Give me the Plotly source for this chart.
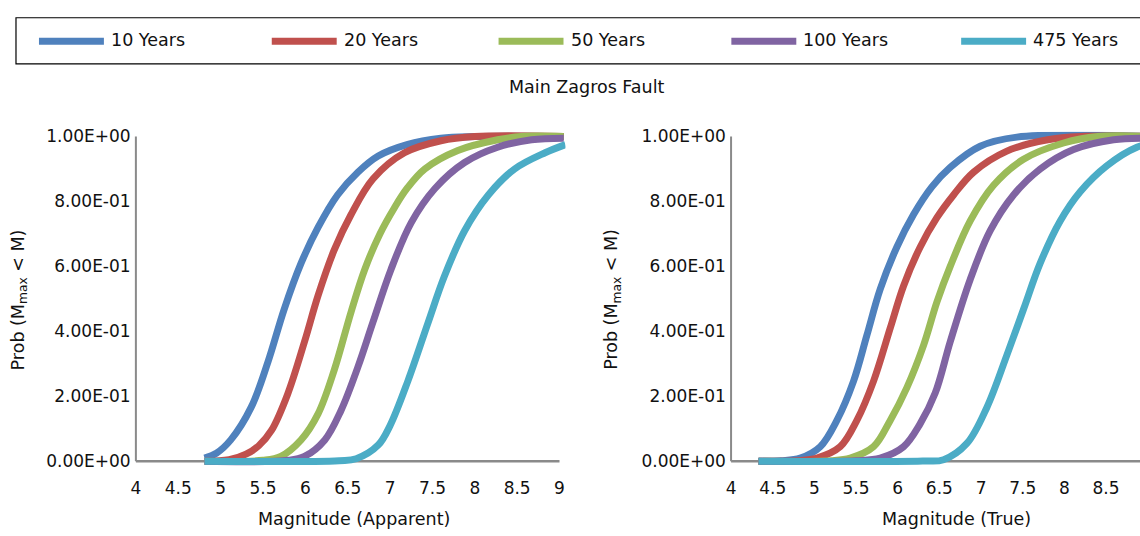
import plotly.graph_objects as go

# ---------------- data ----------------
series_names = ["10 Years", "20 Years", "50 Years", "100 Years", "475 Years"]
series_colors = ["#4F81BD", "#C0504D", "#9BBB59", "#8064A2", "#4BACC6"]

# Left panel: Magnitude (Apparent)
app_10_m = [4.81, 4.95, 5.12, 5.36, 5.56, 5.75, 5.95, 6.15, 6.38, 6.62, 6.86, 7.2, 7.6, 8.0, 9.05]
app_10_p = [0.01, 0.025, 0.066, 0.166, 0.307, 0.468, 0.61, 0.72, 0.82, 0.89, 0.94, 0.975, 0.995, 1.0, 1.0]
app_20_m = [4.81, 5.1, 5.3, 5.45, 5.60, 5.79, 5.99, 6.15, 6.34, 6.54, 6.80, 7.17, 7.6, 8.0, 9.05]
app_20_p = [0.0, 0.005, 0.022, 0.048, 0.095, 0.206, 0.368, 0.51, 0.65, 0.76, 0.87, 0.95, 0.987, 1.0, 1.0]
app_50_m = [4.81, 5.5, 5.71, 5.95, 6.15, 6.34, 6.54, 6.70, 6.88, 7.05, 7.20, 7.41, 7.80, 8.27, 8.55, 9.05]
app_50_p = [0.0, 0.003, 0.015, 0.066, 0.146, 0.28, 0.46, 0.59, 0.70, 0.78, 0.84, 0.90, 0.957, 0.99, 1.0, 1.0]
app_100_m = [4.81, 5.8, 5.99, 6.23, 6.42, 6.62, 6.80, 7.01, 7.25, 7.53, 7.88, 8.27, 8.67, 9.05]
app_100_p = [0.0, 0.003, 0.015, 0.066, 0.156, 0.29, 0.43, 0.59, 0.735, 0.84, 0.92, 0.967, 0.99, 0.995]
app_475_m = [4.81, 6.4, 6.6, 6.86, 7.0, 7.21, 7.45, 7.64, 7.88, 8.16, 8.47, 8.83, 9.07]
app_475_p = [0.0, 0.002, 0.008, 0.05, 0.11, 0.247, 0.428, 0.569, 0.71, 0.82, 0.90, 0.95, 0.975]

# Right panel: Magnitude (True)
true_10_m = [4.33, 4.6, 4.83, 5.07, 5.27, 5.47, 5.63, 5.79, 5.99, 6.19, 6.41, 6.63, 6.99, 7.43, 9.0]
true_10_p = [0.0, 0.002, 0.01, 0.045, 0.126, 0.247, 0.388, 0.53, 0.66, 0.76, 0.845, 0.905, 0.97, 0.998, 1.0]
true_20_m = [4.33, 4.8, 5.03, 5.31, 5.51, 5.71, 5.91, 6.07, 6.27, 6.47, 6.67, 6.91, 7.31, 7.8, 8.2, 9.0]
true_20_p = [0.0, 0.002, 0.01, 0.045, 0.126, 0.247, 0.41, 0.54, 0.66, 0.75, 0.82, 0.89, 0.955, 0.99, 1.0, 1.0]
true_50_m = [4.33, 5.2, 5.43, 5.71, 5.91, 6.11, 6.31, 6.47, 6.63, 6.87, 7.15, 7.51, 7.99, 8.4, 9.0]
true_50_p = [0.0, 0.002, 0.01, 0.045, 0.126, 0.227, 0.357, 0.49, 0.60, 0.74, 0.85, 0.93, 0.98, 1.0, 1.0]
true_100_m = [4.33, 5.5, 5.79, 6.07, 6.27, 6.45, 6.63, 6.87, 7.11, 7.39, 7.71, 8.11, 8.59, 9.0]
true_100_p = [0.0, 0.002, 0.01, 0.045, 0.116, 0.21, 0.368, 0.56, 0.71, 0.82, 0.90, 0.96, 0.99, 0.995]
true_475_m = [4.33, 6.3, 6.55, 6.83, 7.07, 7.31, 7.51, 7.71, 7.95, 8.19, 8.51, 8.87, 9.0]
true_475_p = [0.0, 0.001, 0.005, 0.055, 0.166, 0.327, 0.468, 0.61, 0.74, 0.83, 0.91, 0.967, 0.975]

y_tickvals = [0.0, 0.2, 0.4, 0.6, 0.8, 1.0]
y_ticktext = ["0.00E+00", "2.00E-01", "4.00E-01", "6.00E-01", "8.00E-01", "1.00E+00"]

chart_title = "Main Zagros Fault"
left_xtitle = "Magnitude (Apparent)"
right_xtitle = "Magnitude (True)"
ytitle = "Prob (M<sub>max</sub> &lt; M)"

app_series = [(app_10_m, app_10_p), (app_20_m, app_20_p), (app_50_m, app_50_p),
              (app_100_m, app_100_p), (app_475_m, app_475_p)]
true_series = [(true_10_m, true_10_p), (true_20_m, true_20_p), (true_50_m, true_50_p),
               (true_100_m, true_100_p), (true_475_m, true_475_p)]

# ---------------- layout geometry ----------------
W, H = 1140, 536
FONT = "DejaVu Sans, Arial, sans-serif"
TXT = "#111111"
AXC = "#8a8a8a"


def dom(v1, p1, v2, p2, lo, hi, total):
    s = (p2 - p1) / (v2 - v1)
    a = p1 + (lo - v1) * s
    b = p1 + (hi - v1) * s
    return [max(0.0, min(a, b) / total), min(1.0, max(a, b) / total)]


# left x: 4 -> 135px, 9 -> 559px
lx_range = [3.95, 9.07]
lx_dom = dom(4, 135, 9, 559, lx_range[0], lx_range[1], W)
# right x: 4 -> 730.7px, 8.5 -> 1106px
rs = (1106 - 730.7) / 4.5
rx_range = [3.95, 4 + (W - 730.7) / rs]
rx_dom = dom(4, 730.7, 8.5, 1106, rx_range[0], rx_range[1], W)
# y: 0 -> 465px, 1 -> 134px (from top)
y_range = [-0.015, 1.015]
yd = dom(0, H - 465, 1, H - 134, y_range[0], y_range[1], H)

fig = go.Figure()

for i, (m, p) in enumerate(app_series):
    fig.add_trace(go.Scatter(x=m, y=p, mode="lines", name=series_names[i],
                             line=dict(color=series_colors[i], width=7, shape="spline", smoothing=1.0),
                             showlegend=False, xaxis="x", yaxis="y"))
for i, (m, p) in enumerate(true_series):
    fig.add_trace(go.Scatter(x=m, y=p, mode="lines", name=series_names[i],
                             line=dict(color=series_colors[i], width=7, shape="spline", smoothing=1.0),
                             showlegend=False, xaxis="x2", yaxis="y2"))

xcommon = dict(tickmode="linear", tick0=4, dtick=0.5, showgrid=False, zeroline=False,
               showline=False, ticks="outside", ticklen=6, tickcolor="rgba(0,0,0,0)",
               tickfont=dict(family=FONT, size=17, color=TXT))
ycommon = dict(range=y_range, domain=yd, tickmode="array", tickvals=y_tickvals, ticktext=y_ticktext,
               showgrid=False, zeroline=False, showline=False, ticks="",
               tickfont=dict(family=FONT, size=17, color=TXT))

fig.update_layout(
    width=W, height=H,
    margin=dict(l=0, r=0, t=0, b=0),
    paper_bgcolor="white", plot_bgcolor="white",
    showlegend=False,
    xaxis=dict(range=lx_range, domain=lx_dom, anchor="y", **xcommon),
    yaxis=dict(anchor="x", **ycommon),
    xaxis2=dict(range=rx_range, domain=rx_dom, anchor="y2", **xcommon),
    yaxis2=dict(anchor="x2", **ycommon),
)

shapes = []
# axis lines
shapes.append(dict(type="line", xref="x", yref="y", x0=4, x1=4, y0=0, y1=1,
                   line=dict(color=AXC, width=2), layer="below"))
shapes.append(dict(type="line", xref="x", yref="y", x0=4, x1=9, y0=0, y1=0,
                   line=dict(color=AXC, width=2.5), layer="below"))
shapes.append(dict(type="line", xref="x2", yref="y2", x0=4, x1=4, y0=0, y1=1,
                   line=dict(color=AXC, width=2), layer="below"))
shapes.append(dict(type="line", xref="x2", yref="y2", x0=4, x1=9.2, y0=0, y1=0,
                   line=dict(color=AXC, width=2.5), layer="below"))

# legend box
shapes.append(dict(type="rect", xref="paper", yref="paper",
                   x0=15 / W, x1=1160 / W, y0=1 - 60 / H, y1=1 - 13 / H,
                   line=dict(color="#000000", width=1.2), fillcolor="rgba(0,0,0,0)"))

annotations = []
leg_x = [35, 268, 495, 728, 958]
leg_y = 37
for i, name in enumerate(series_names):
    shapes.append(dict(type="line", xref="paper", yref="paper",
                       x0=(leg_x[i] + 3) / W, x1=(leg_x[i] + 68) / W,
                       y0=1 - leg_y / H, y1=1 - leg_y / H,
                       line=dict(color=series_colors[i], width=7)))
    annotations.append(dict(text=name, xref="paper", yref="paper",
                            x=(leg_x[i] + 73) / W, y=1 - (leg_y - 1) / H,
                            xanchor="left", yanchor="middle", showarrow=False,
                            font=dict(family=FONT, size=17.5, color=TXT)))

annotations.append(dict(text=chart_title, xref="paper", yref="paper",
                        x=586 / W, y=1 - 84 / H, xanchor="center", yanchor="middle",
                        showarrow=False, font=dict(family=FONT, size=17.5, color=TXT)))
annotations.append(dict(text=left_xtitle, xref="paper", yref="paper",
                        x=353 / W, y=1 - 524 / H, xanchor="center", yanchor="middle",
                        showarrow=False, font=dict(family=FONT, size=17.5, color=TXT)))
annotations.append(dict(text=right_xtitle, xref="paper", yref="paper",
                        x=956 / W, y=1 - 524 / H, xanchor="center", yanchor="middle",
                        showarrow=False, font=dict(family=FONT, size=17.5, color=TXT)))
for xp in [18, 612]:
    annotations.append(dict(text=ytitle, xref="paper", yref="paper",
                            x=xp / W, y=1 - 300 / H, xanchor="center", yanchor="middle",
                            textangle=-90, showarrow=False,
                            font=dict(family=FONT, size=17.5, color=TXT)))

fig.update_layout(shapes=shapes, annotations=annotations)

fig.write_html("out.html", config={"displayModeBar": False},
               post_script="document.body.style.margin='0';document.body.style.overflow='hidden';")
